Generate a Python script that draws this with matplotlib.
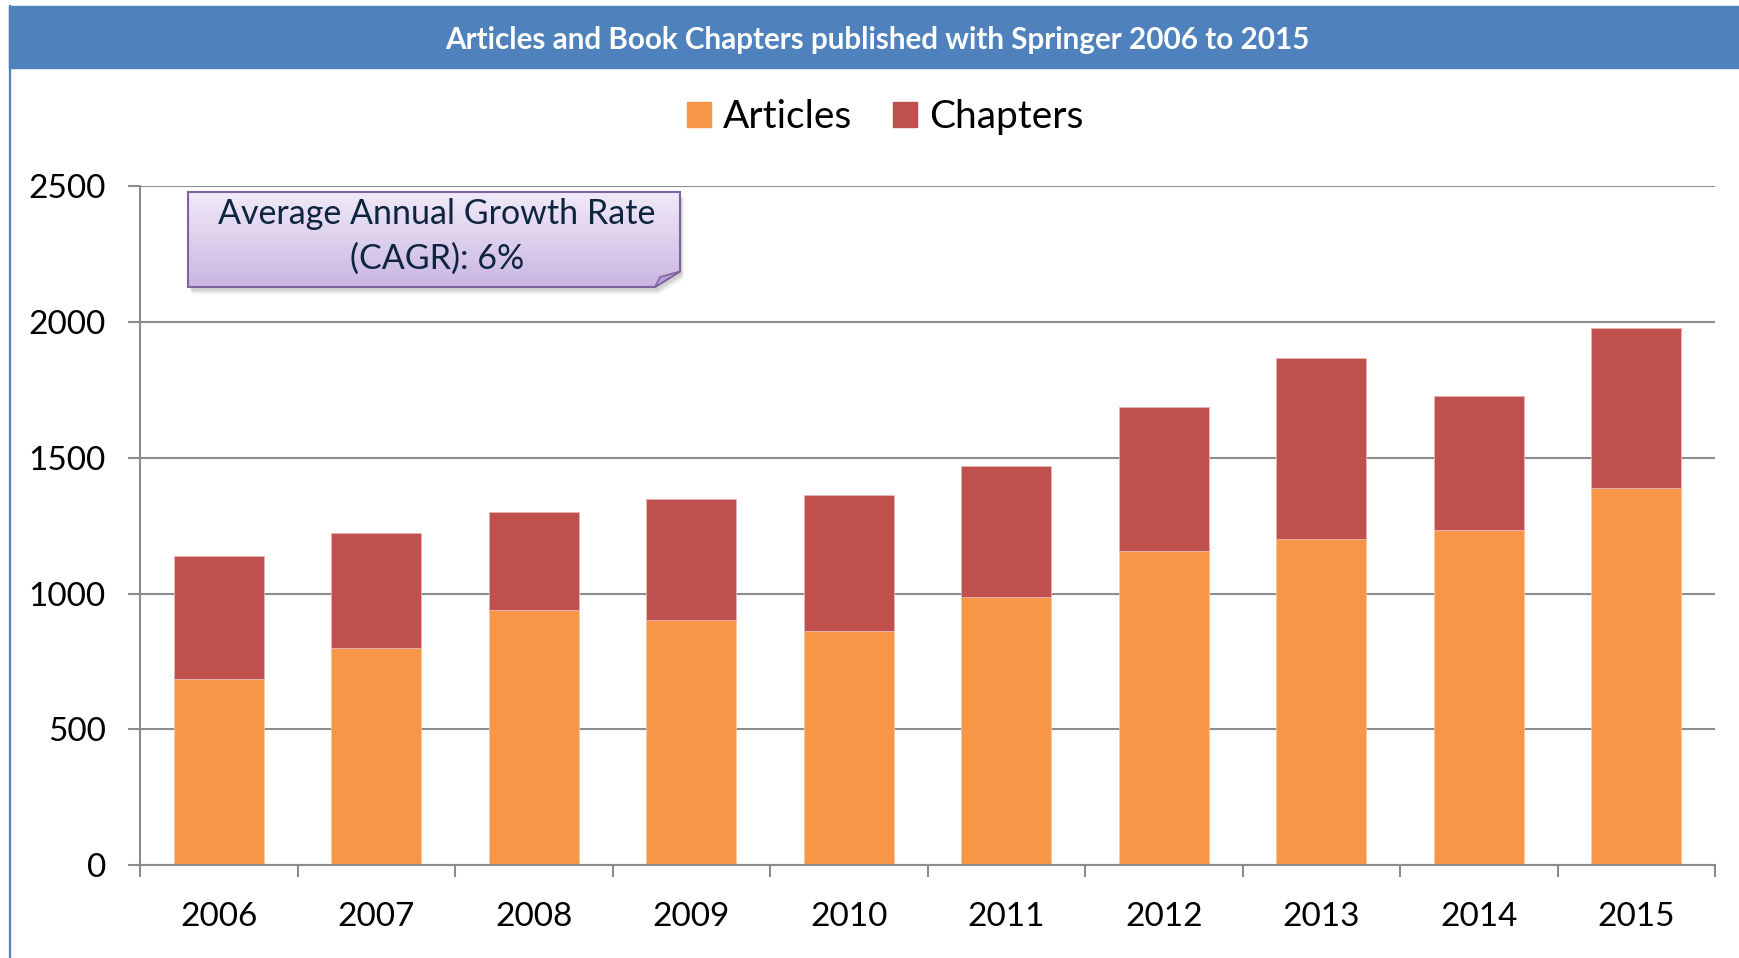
import numpy as np
import matplotlib
matplotlib.use("Agg")
import matplotlib.pyplot as plt
from matplotlib.patches import Rectangle, Polygon, Patch
from matplotlib.lines import Line2D
from matplotlib.colors import to_rgb

plt.rcParams['font.family'] = ['Lato', 'DejaVu Sans']

# ---- data ----
years = ["2006", "2007", "2008", "2009", "2010", "2011", "2012", "2013", "2014", "2015"]
articles = [685, 801, 940, 903, 862, 987, 1157, 1201, 1236, 1390]
chapters = [452, 421, 361, 446, 501, 483, 532, 666, 491, 590]
series_names = ["Articles", "Chapters"]
title = "Articles and Book Chapters published with Springer 2006 to 2015"
callout_lines = ["Average Annual Growth Rate", "(CAGR): 6%"]
y_ticks = [0, 500, 1000, 1500, 2000, 2500]

ORANGE = "#F79646"
RED = "#C0504D"
BLUE = "#4F81BD"
GRID = "#8C8C8C"

W, H = 1740, 958
fig = plt.figure(figsize=(W / 100, H / 100), dpi=100)

# title bar
fig.patches.append(Rectangle((9 / W, 1 - 68 / H), (W - 9) / W, 62 / H,
                             transform=fig.transFigure, color=BLUE, zorder=0))
fig.lines.append(Line2D([10.5 / W, 10.5 / W], [0, 1 - 6 / H], transform=fig.transFigure,
                        color=BLUE, lw=1.6))
fig.text(877 / W, 1 - 49 / H, title, ha="center", va="baseline", color="white",
         fontsize=21.3, fontweight="bold")

# main axes
ax = fig.add_axes([140 / W, 93 / H, 1575 / W, (865 - 186.4) / H])
x = np.arange(len(years))
bw = 0.571
ax.bar(x, articles, width=bw, color=ORANGE, edgecolor="#FBC9A0", linewidth=0.6, zorder=2)
ax.bar(x, chapters, width=bw, bottom=articles, color=RED, edgecolor="#E8B5B3",
       linewidth=0.6, zorder=2)

ax.set_xlim(-0.5, len(years) - 0.5)
ax.set_ylim(0, 2500)
ax.set_yticks(y_ticks)
ax.set_yticklabels([str(v) for v in y_ticks])
ax.set_xticks(x)
ax.set_xticklabels(years)
ax.set_xticks(np.arange(-0.5, len(years), 1.0), minor=True)

ax.yaxis.grid(True, color=GRID, lw=1.5, zorder=0)
ax.set_axisbelow(True)
for s in ["top", "right"]:
    ax.spines[s].set_visible(False)
for s in ["left", "bottom"]:
    ax.spines[s].set_color(GRID)
    ax.spines[s].set_linewidth(1.5)

ax.tick_params(axis="y", which="major", length=8.6, width=1.5, color=GRID, direction="out",
               pad=16, labelsize=24, labelcolor="black")
ax.tick_params(axis="x", which="major", length=0, pad=26.5, labelsize=24, labelcolor="black")
ax.tick_params(axis="x", which="minor", length=8.6, width=1.5, color=GRID, direction="out")

# legend
handles = [Patch(color=ORANGE), Patch(color=RED)]
fig.legend(handles, series_names, loc="center", bbox_to_anchor=(885 / W, 1 - 117 / H),
           ncol=2, frameon=False, fontsize=28, handlelength=0.62, handleheight=0.62,
           handletextpad=0.3, columnspacing=1.05, borderpad=0, borderaxespad=0)

# callout box
bw_px, bh_px = 492, 95
bax = fig.add_axes([188 / W, (958 - 287) / H, bw_px / W, bh_px / H], zorder=5)
bax.set_xlim(0, bw_px)
bax.set_ylim(0, bh_px)
bax.axis("off")
poly_pts = [(0, 0), (0, bh_px), (bw_px, bh_px), (bw_px, 15.5), (467, 0)]
# shadow
for i, a in enumerate([0.10, 0.08, 0.06, 0.04]):
    sp = [(px + 2 + i * 0.8, py - 4 - i * 1.2) for px, py in poly_pts]
    bax.add_patch(Polygon(sp, closed=True, facecolor="#555555", edgecolor="none",
                          alpha=a, clip_on=False, zorder=1))
# gradient fill
top_c = np.array(to_rgb("#F0EAF8"))
bot_c = np.array(to_rgb("#CAB6E2"))
t = np.linspace(0, 1, 200)[:, None, None]
grad = top_c * (1 - t) + bot_c * t
grad = np.repeat(grad, 2, axis=1)
clip = Polygon(poly_pts, closed=True, transform=bax.transData, facecolor="none")
bax.add_patch(clip)
im = bax.imshow(grad, extent=(0, bw_px, 0, bh_px), origin="upper", aspect="auto", zorder=2)
im.set_clip_path(clip)
bax.add_patch(Polygon(poly_pts, closed=True, facecolor="none", edgecolor="#8064A2",
                      lw=1.5, zorder=3, clip_on=False))
bax.add_patch(Polygon([(467, 0), (472, 10), (bw_px, 15.5)], closed=True,
                      facecolor="#B8A0D6", edgecolor="#8064A2", lw=1.2, zorder=4,
                      clip_on=False))
bax.text(249, 63.5, callout_lines[0], ha="center", va="baseline", fontsize=24.5,
         color="#0F243E", zorder=5)
bax.text(249, 18, callout_lines[1], ha="center", va="baseline", fontsize=24.5,
         color="#0F243E", zorder=5)

fig.savefig("out.png", dpi=100)
